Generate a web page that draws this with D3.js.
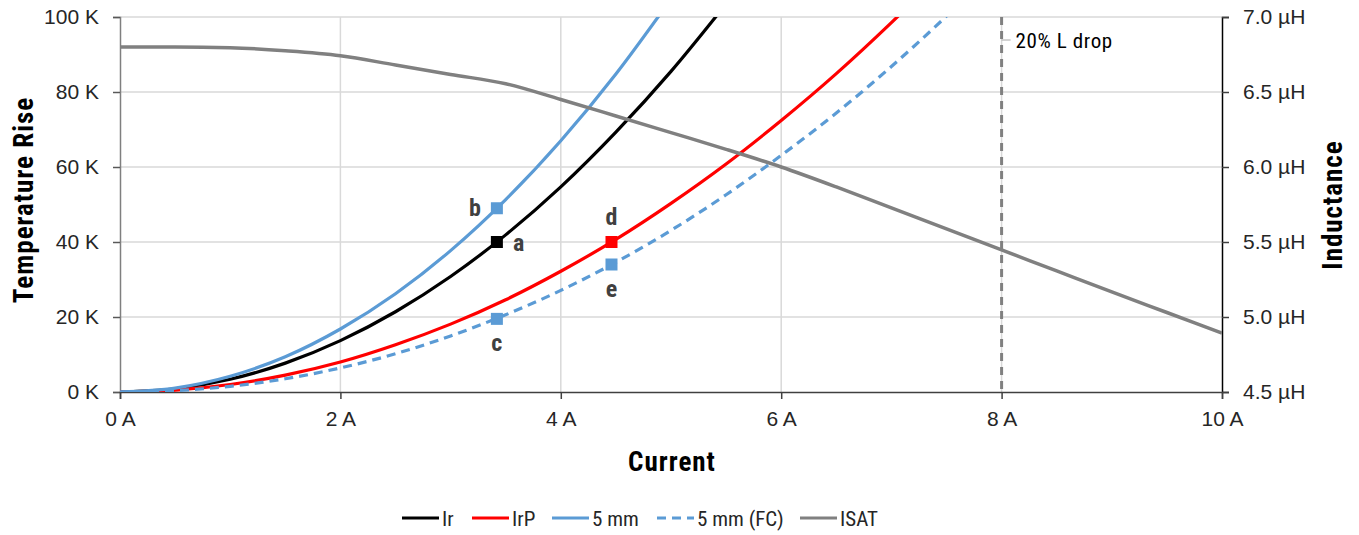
<!DOCTYPE html>
<html><head><meta charset="utf-8">
<script src="https://cdn.jsdelivr.net/npm/d3@7"></script>
<style>
body{margin:0;background:#fff;}
svg{font-family:"Liberation Sans Narrow","Roboto Condensed","DejaVu Sans Condensed","Liberation Sans",sans-serif;}
</style></head><body>
<svg id="chart" width="1359" height="535"></svg>
<script>
const current = [0,0.5,1,1.5,2,2.5,3,3.5,4,4.5,5,5.5,6,6.5,7,7.5];
const ir      = [0,0.86,3.4,7.7,13.7,21.4,30.8,41.9,54.7,69.3,85.5,103.5,null,null,null,null];
const irp     = [0,0.5,2.0,4.5,8.0,12.6,18.1,24.6,32.2,40.7,50.3,60.8,72.4,84.9,98.5,113];
const mm5     = [0,1.05,4.2,9.4,16.8,26.2,37.7,51.3,67,84.8,104.8,null,null,null,null,null];
const mm5fc   = [0,0.36,1.52,3.53,6.42,10.2,14.95,20.6,27.1,34.6,43.1,52.6,63.1,74.4,86.8,100.2];
const isatI   = [0,0.5,1,1.5,2,2.5,3,3.5,4,4.5,5,5.5,6,6.5,7,7.5,8,8.5,9,9.5,10];
const isatL   = [6.80,6.80,6.795,6.775,6.742,6.68,6.617,6.555,6.45,6.34,6.229,6.118,6.0,5.867,5.727,5.587,5.447,5.307,5.167,5.03,4.893];
const points = [
  {name:"a", I:3.42, T:40, color:"#000000", pos:"right"},
  {name:"b", I:3.42, T:49, color:"#5b9bd5", pos:"left"},
  {name:"c", I:3.42, T:19.5, color:"#5b9bd5", pos:"below"},
  {name:"d", I:4.46, T:40, color:"#ff0000", pos:"above"},
  {name:"e", I:4.46, T:34, color:"#5b9bd5", pos:"below"}
];
const xTicks = [0,2,4,6,8,10];
const yTicks = [0,20,40,60,80,100];
const y2Ticks = [4.5,5.0,5.5,6.0,6.5,7.0];
const dropI = 8;
const dropLabel = "20% L drop";
const legendItems = [
  {label:"Ir", color:"#000000", dash:null},
  {label:"IrP", color:"#ff0000", dash:null},
  {label:"5 mm", color:"#5b9bd5", dash:null},
  {label:"5 mm (FC)", color:"#5b9bd5", dash:"9,6"},
  {label:"ISAT", color:"#808080", dash:null}
];

const svg = d3.select("#chart");
const L = 120, R = 1222, T = 17, B = 392;
const x = d3.scaleLinear().domain([0,10]).range([L,R]);
const y = d3.scaleLinear().domain([0,100]).range([B,T]);
const y2 = d3.scaleLinear().domain([4.5,7.0]).range([B,T]);

svg.append("defs").append("clipPath").attr("id","clip")
  .append("rect").attr("x",L).attr("y",T).attr("width",R-L).attr("height",B-T);

// gridlines
svg.append("g").selectAll("line").data(yTicks.filter(d=>d>0)).join("line")
  .attr("x1",L).attr("x2",R).attr("y1",d=>y(d)).attr("y2",d=>y(d))
  .attr("stroke","#d9d9d9").attr("stroke-width",1.5);
svg.append("g").selectAll("line").data(xTicks.filter(d=>d>0&&d<10)).join("line")
  .attr("x1",d=>x(d)).attr("x2",d=>x(d)).attr("y1",T).attr("y2",B)
  .attr("stroke","#d9d9d9").attr("stroke-width",1.5);

// axes
const fmtK = d=>d+" K";
const gy = svg.append("g").attr("transform",`translate(${L},0)`)
  .call(d3.axisLeft(y).tickValues(yTicks).tickFormat(fmtK).tickSize(7).tickPadding(14));
gy.select(".domain").attr("stroke","#7f7f7f").attr("stroke-width",1.5);
gy.selectAll(".tick line").attr("stroke","#595959").attr("stroke-width",1.5);
gy.selectAll(".tick text").attr("font-size",21).attr("fill","#262626");

const gy2 = svg.append("g").attr("transform",`translate(${R},0)`)
  .call(d3.axisRight(y2).tickValues(y2Ticks).tickFormat(d=>d.toFixed(1)+" µH").tickSize(7).tickPadding(14));
gy2.select(".domain").attr("stroke","#000").attr("stroke-width",1.5);
gy2.selectAll(".tick line").attr("stroke","#404040").attr("stroke-width",1.5);
gy2.selectAll(".tick text").attr("font-size",21).attr("fill","#262626");

const gx = svg.append("g").attr("transform",`translate(0,${B})`)
  .call(d3.axisBottom(x).tickValues(xTicks).tickFormat(d=>d+" A").tickSize(7).tickPadding(12));
gx.select(".domain").attr("stroke","#404040").attr("stroke-width",1.5);
gx.selectAll(".tick line").attr("stroke","#404040").attr("stroke-width",1.5);
gx.selectAll(".tick text").attr("font-size",21).attr("fill","#262626");

// vertical drop line
svg.append("line").attr("x1",x(dropI)).attr("x2",x(dropI)).attr("y1",T).attr("y2",B)
  .attr("stroke","#808080").attr("stroke-width",3).attr("stroke-dasharray","8,6");
svg.append("line").attr("x1",x(dropI)).attr("x2",x(dropI)+9).attr("y1",40).attr("y2",40)
  .attr("stroke","#a6a6a6").attr("stroke-width",1);
svg.append("text").attr("x",x(dropI)+14).attr("y",48).attr("font-size",21).attr("letter-spacing",0.6)
  .attr("fill","#000").text(dropLabel);

// lines
const plot = svg.append("g").attr("clip-path","url(#clip)");
function series(vals, color, dash){
  const data = current.map((c,i)=>[c,vals[i]]).filter(d=>d[1]!==null);
  plot.append("path").datum(data)
    .attr("d", d3.line().x(d=>x(d[0])).y(d=>y(d[1])).curve(d3.curveMonotoneX))
    .attr("fill","none").attr("stroke",color).attr("stroke-width",3.2)
    .attr("stroke-dasharray",dash);
}
series(ir,"#000000",null);
series(irp,"#ff0000",null);
series(mm5,"#5b9bd5",null);
series(mm5fc,"#5b9bd5","9,6");
plot.append("path").datum(isatI.map((c,i)=>[c,isatL[i]]))
  .attr("d", d3.line().x(d=>x(d[0])).y(d=>y2(d[1])).curve(d3.curveMonotoneX))
  .attr("fill","none").attr("stroke","#808080").attr("stroke-width",3.5);

// markers
const mk = svg.append("g");
points.forEach(p=>{
  const px = x(p.I), py = y(p.T);
  mk.append("rect").attr("x",px-6).attr("y",py-6).attr("width",12).attr("height",12).attr("fill",p.color);
  let tx=px, ty=py, anchor="middle";
  if(p.pos==="right"){tx=px+16; ty=py+9; anchor="start";}
  if(p.pos==="left"){tx=px-16; ty=py+8; anchor="end";}
  if(p.pos==="below"){ty=py+32;}
  if(p.pos==="above"){ty=py-17;}
  mk.append("text").attr("x",tx).attr("y",ty).attr("text-anchor",anchor)
    .attr("font-size",24).attr("font-weight","bold").attr("fill","#404040").text(p.name);
});

// axis titles
svg.append("text").attr("transform",`translate(33,200) rotate(-90)`).attr("text-anchor","middle")
  .attr("font-size",27).attr("font-weight","bold").attr("letter-spacing",1).attr("fill","#000").text("Temperature Rise");
svg.append("text").attr("transform",`translate(1342,205) rotate(-90)`).attr("text-anchor","middle")
  .attr("font-size",27).attr("font-weight","bold").attr("letter-spacing",1).attr("fill","#000").text("Inductance");
svg.append("text").attr("x",672).attr("y",471).attr("text-anchor","middle")
  .attr("font-size",27).attr("font-weight","bold").attr("letter-spacing",1).attr("fill","#000").text("Current");

// legend
const legX = [402,472,552,657,800];
const lg = svg.append("g");
legendItems.forEach((it,i)=>{
  const lx = legX[i];
  lg.append("line").attr("x1",lx).attr("x2",lx+37).attr("y1",518).attr("y2",518)
    .attr("stroke",it.color).attr("stroke-width",3.2).attr("stroke-dasharray",it.dash);
  lg.append("text").attr("x",lx+40).attr("y",526).attr("font-size",21).attr("fill","#262626").text(it.label);
});
</script></body></html>
